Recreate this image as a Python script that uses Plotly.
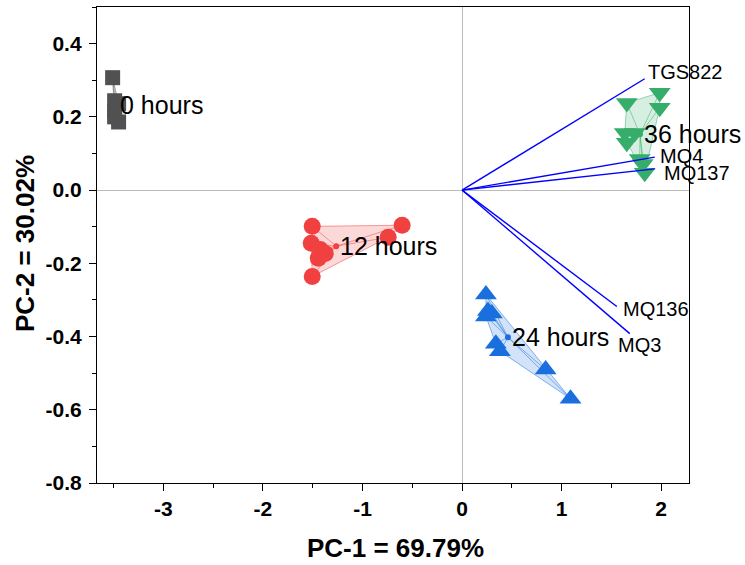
import plotly.graph_objects as go

# ---------------- data ----------------
groups = ["0 hours", "12 hours", "24 hours", "36 hours"]

pc1_0h = [-3.51, -3.49, -3.45, -3.49, -3.49, -3.45]
pc2_0h = [0.307, 0.244, 0.236, 0.216, 0.200, 0.186]

pc1_12h = [-1.505, -0.602, -0.742, -1.515, -1.424, -1.374, -1.444, -1.505]
pc2_12h = [-0.099, -0.096, -0.129, -0.145, -0.162, -0.173, -0.186, -0.236]

pc1_24h = [0.24, 0.26, 0.30, 0.24, 0.34, 0.38, 0.84, 1.09]
pc2_24h = [-0.285, -0.330, -0.337, -0.345, -0.420, -0.440, -0.490, -0.570]

pc1_36h = [1.655, 1.986, 1.986, 1.635, 1.735, 1.655, 1.785, 1.815, 1.835]
pc2_36h = [0.238, 0.266, 0.225, 0.156, 0.156, 0.129, 0.085, 0.071, 0.047]

sensors = ["TGS822", "MQ4", "MQ137", "MQ136", "MQ3"]
load_pc1 = [1.835, 1.936, 1.936, 1.555, 1.685]
load_pc2 = [0.304, 0.090, 0.058, -0.318, -0.392]

x_ticks = [-3, -2, -1, 0, 1, 2]
y_ticks = [-0.8, -0.6, -0.4, -0.2, 0.0, 0.2, 0.4]
y_tick_text = ["-0.8", "-0.6", "-0.4", "-0.2", "0.0", "0.2", "0.4"]

# ---------------- styling ----------------
colors = ["#515151", "#F14040", "#1A6FDF", "#37AD6B"]
fills = ["rgba(81,81,81,0.2)", "rgba(241,64,64,0.2)", "rgba(26,111,223,0.2)", "rgba(55,173,107,0.2)"]
edges = ["rgba(81,81,81,0.5)", "rgba(241,64,64,0.5)", "rgba(26,111,223,0.5)", "rgba(55,173,107,0.5)"]
symbols = ["square", "circle", "triangle-up", "triangle-down"]
sizes = [15, 17, 19, 19]
FONT = "Arial, 'Liberation Sans', sans-serif"

xs = [pc1_0h, pc1_12h, pc1_24h, pc1_36h]
ys = [pc2_0h, pc2_12h, pc2_24h, pc2_36h]


def hull(px, py):
    pts = sorted(set(zip(px, py)))
    if len(pts) < 3:
        return pts

    def cross(o, a, b):
        return (a[0] - o[0]) * (b[1] - o[1]) - (a[1] - o[1]) * (b[0] - o[0])

    lower = []
    for p in pts:
        while len(lower) >= 2 and cross(lower[-2], lower[-1], p) <= 0:
            lower.pop()
        lower.append(p)
    upper = []
    for p in reversed(pts):
        while len(upper) >= 2 and cross(upper[-2], upper[-1], p) <= 0:
            upper.pop()
        upper.append(p)
    return lower[:-1] + upper[:-1]


fig = go.Figure()

annotations = []
for i, g in enumerate(groups):
    px, py = xs[i], ys[i]
    cx = sum(px) / len(px)
    cy = sum(py) / len(py)
    h = hull(px, py)
    hx = [p[0] for p in h] + [h[0][0]]
    hy = [p[1] for p in h] + [h[0][1]]
    fig.add_trace(go.Scatter(x=hx, y=hy, mode="lines", fill="toself",
                             fillcolor=fills[i], line=dict(color=edges[i], width=1),
                             hoverinfo="skip", showlegend=False))
    sx, sy = [], []
    for a, b in zip(px, py):
        sx += [cx, a, None]
        sy += [cy, b, None]
    fig.add_trace(go.Scatter(x=sx, y=sy, mode="lines",
                             line=dict(color=edges[i], width=1),
                             hoverinfo="skip", showlegend=False))
    fig.add_trace(go.Scatter(x=[cx], y=[cy], mode="markers",
                             marker=dict(color=colors[i], size=6),
                             hoverinfo="skip", showlegend=False))
    fig.add_trace(go.Scatter(x=px, y=py, mode="markers", name=g,
                             marker=dict(color=colors[i], symbol=symbols[i], size=sizes[i],
                                         line=dict(width=0)),
                             showlegend=False))
    annotations.append(dict(x=cx, y=cy, text=g, showarrow=False, xanchor="left",
                            yanchor="middle", xshift=2,
                            font=dict(family=FONT, size=25, color="black")))

# loading vectors
lx, ly = [], []
for a, b in zip(load_pc1, load_pc2):
    lx += [0, a, None]
    ly += [0, b, None]
fig.add_trace(go.Scatter(x=lx, y=ly, mode="lines", line=dict(color="#0000FF", width=1.4),
                         hoverinfo="skip", showlegend=False))

label_offsets = {"TGS822": (1, 7), "MQ4": (3, 1), "MQ137": (7, -4),
                 "MQ136": (4, -2), "MQ3": (-14, -11)}
for s, a, b in zip(sensors, load_pc1, load_pc2):
    dx, dy = label_offsets[s]
    annotations.append(dict(x=a, y=b, text=s, showarrow=False, xanchor="left",
                            yanchor="middle", xshift=dx, yshift=dy,
                            font=dict(family=FONT, size=20, color="black")))

L, R, T, B = 97, 56, 7, 82
pw = 745 - L - R
ph = 565 - T - B

# axis titles (pixel centres converted to paper coords)
annotations.append(dict(x=(395 - L) / pw, y=(565 - B - 548) / ph, xref="paper", yref="paper",
                        text="<b>PC-1 = 69.79%</b>", showarrow=False,
                        xanchor="center", yanchor="middle",
                        font=dict(family=FONT, size=26, color="black")))
annotations.append(dict(x=(25 - L) / pw, y=(565 - B - 244) / ph, xref="paper", yref="paper",
                        text="<b>PC-2 = 30.02%</b>", textangle=-90, showarrow=False,
                        xanchor="center", yanchor="middle",
                        font=dict(family=FONT, size=26, color="black")))

axis_common = dict(showgrid=False, showline=True, linecolor="black", linewidth=1.3,
                   mirror=True, ticks="outside", ticklen=7, tickwidth=1.3, tickcolor="black",
                   zeroline=True, zerolinecolor="#BBBBBB", zerolinewidth=1,
                   tickfont=dict(family=FONT, size=21, color="black"))

fig.update_layout(
    width=745, height=565,
    margin=dict(l=L, r=R, t=T, b=B),
    plot_bgcolor="white", paper_bgcolor="white",
    showlegend=False,
    xaxis=dict(range=[-3.667, 2.28], tickvals=x_ticks,
               ticktext=["<b>%d</b>" % v for v in x_ticks],
               minor=dict(dtick=0.5, ticks="outside", ticklen=4, tickcolor="black", tickwidth=1),
               **axis_common),
    yaxis=dict(range=[-0.8, 0.5], tickvals=y_ticks,
               ticktext=["<b>%s</b>" % t for t in y_tick_text],
               ticklabelstandoff=3,
               minor=dict(dtick=0.1, ticks="outside", ticklen=4, tickcolor="black", tickwidth=1),
               **axis_common),
    annotations=annotations,
)

fig.write_html("out.html", config={"displayModeBar": False},
               post_script="document.body.style.margin='0';document.body.style.overflow='hidden';")
